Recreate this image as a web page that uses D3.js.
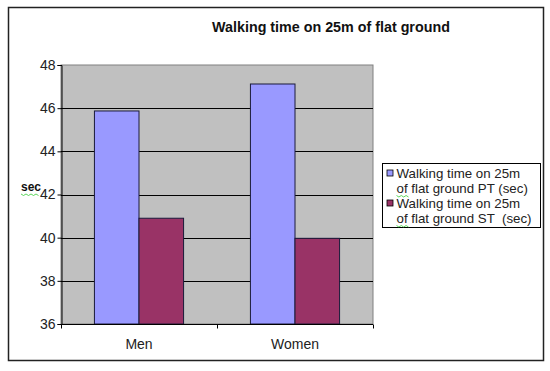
<!DOCTYPE html>
<html>
<head>
<meta charset="utf-8">
<script src="https://cdn.jsdelivr.net/npm/d3@7"></script>
<style>
  body { margin: 0; background: #fff; }
  svg { display: block; font-family: "Liberation Sans", Arial, sans-serif; }
</style>
</head>
<body>
<svg id="chart"></svg>
<script>
// Dades
var categories = ["Men", "Women"];
var seriesNames = ["PT", "ST"];
var ptValues = [45.87, 47.12];
var stValues = [40.9, 39.97];
var legendLines = [
  ["Walking time on 25m", "of flat ground PT (sec)"],
  ["Walking time on 25m", "of flat ground ST  (sec)"]
];
var yTicks = [36, 38, 40, 42, 44, 46, 48];

var width = 550, height = 371;
var colors = { PT: "#9999ff", ST: "#993366" };

var svg = d3.select("#chart").attr("width", width).attr("height", height);

// Marc exterior
svg.append("rect")
  .attr("x", 8.5).attr("y", 7.5)
  .attr("width", 535).attr("height", 353)
  .attr("fill", "#fff").attr("stroke", "#222").attr("stroke-width", 1.5);

// Títol
svg.append("text")
  .attr("x", 331).attr("y", 32)
  .attr("text-anchor", "middle")
  .style("font-size", "14.3px").style("font-weight", "bold").style("fill", "#111")
  .text("Walking time on 25m of flat ground");

// Àrea del gràfic
var plot = { left: 61, top: 65, right: 373, bottom: 324 };

var x0 = d3.scaleBand().domain(categories).range([plot.left, plot.right]);
var x1 = d3.scaleBand().domain(seriesNames).range([0, x0.bandwidth()]).paddingOuter(0.75).paddingInner(0);
var y = d3.scaleLinear().domain([36, 48]).range([plot.bottom, plot.top]);

svg.append("rect")
  .attr("x", plot.left).attr("y", plot.top)
  .attr("width", plot.right - plot.left).attr("height", plot.bottom - plot.top)
  .attr("fill", "#c0c0c0").attr("stroke", "#808080").attr("stroke-width", 1);

// Línies de graella
svg.append("g").selectAll("line")
  .data(yTicks.filter(function(d) { return d > 36 && d < 48; }))
  .enter().append("line")
  .attr("x1", plot.left).attr("x2", plot.right)
  .attr("y1", function(d) { return Math.round(y(d)) + 0.5; })
  .attr("y2", function(d) { return Math.round(y(d)) + 0.5; })
  .attr("stroke", "#000").attr("stroke-width", 1);

// Barres
var data = categories.map(function(c, i) {
  return { cat: c, values: [{ key: "PT", v: ptValues[i] }, { key: "ST", v: stValues[i] }] };
});

svg.append("g").selectAll("g")
  .data(data)
  .enter().append("g")
  .attr("transform", function(d) { return "translate(" + x0(d.cat) + ",0)"; })
  .selectAll("rect")
  .data(function(d) { return d.values; })
  .enter().append("rect")
  .attr("x", function(d) { return x1(d.key); })
  .attr("y", function(d) { return y(d.v); })
  .attr("width", x1.bandwidth())
  .attr("height", function(d) { return y(36) - y(d.v); })
  .attr("fill", function(d) { return colors[d.key]; })
  .attr("stroke", "#1a1a3a").attr("stroke-width", 1);

// Eix Y
var yAxis = d3.axisLeft(y).tickValues(yTicks).tickSize(4).tickPadding(2);
var gy = svg.append("g").attr("transform", "translate(" + (plot.left + 0.5) + ",0)").call(yAxis);
gy.select(".domain").attr("stroke", "#000");
gy.selectAll(".tick line").attr("stroke", "#000");
gy.selectAll("text").style("font-size", "14px").style("fill", "#222").attr("font-family", null);

// Eix X
var gx = svg.append("g").attr("transform", "translate(0," + (plot.bottom + 0.5) + ")");
gx.append("line")
  .attr("x1", plot.left).attr("x2", plot.right)
  .attr("stroke", "#000");
gx.selectAll(".sep")
  .data([plot.left, x0("Women"), plot.right])
  .enter().append("line")
  .attr("class", "sep")
  .attr("x1", function(d) { return Math.round(d) + 0.5; })
  .attr("x2", function(d) { return Math.round(d) + 0.5; })
  .attr("y1", 0).attr("y2", 4)
  .attr("stroke", "#000");
gx.selectAll(".cat")
  .data(categories)
  .enter().append("text")
  .attr("class", "cat")
  .attr("x", function(d) { return x0(d) + x0.bandwidth() / 2; })
  .attr("y", 24)
  .attr("text-anchor", "middle")
  .style("font-size", "14px").style("fill", "#222")
  .text(function(d) { return d; });

// Títol eix Y
svg.append("text")
  .attr("x", 21).attr("y", 191)
  .style("font-size", "12px").style("font-weight", "bold").style("fill", "#111")
  .text("sec");
svg.append("path")
  .attr("d", d3.range(0, 8).map(function(i) { return (i ? "L" : "M") + (21 + i * 2.5) + "," + (194 + (i % 2 ? 1.5 : 0)); }).join(""))
  .attr("fill", "none").attr("stroke", "#3c3").attr("stroke-width", 0.8);

// Llegenda
var legend = svg.append("g").attr("transform", "translate(382.5,163.5)");
legend.append("rect")
  .attr("width", 158).attr("height", 64)
  .attr("fill", "#fff").attr("stroke", "#000");

var items = legend.selectAll(".item")
  .data(seriesNames)
  .enter().append("g")
  .attr("class", "item")
  .attr("transform", function(d, i) { return "translate(0," + (i * 30) + ")"; });

items.append("rect")
  .attr("x", 4.5).attr("y", 6.5).attr("width", 6).attr("height", 6)
  .attr("fill", function(d) { return colors[d]; })
  .attr("stroke", "#000").attr("stroke-width", 0.8);

items.each(function(d, i) {
  var g = d3.select(this);
  legendLines[i].forEach(function(line, j) {
    g.append("text")
      .attr("x", 14).attr("y", 14 + j * 15)
      .style("font-size", "13.3px").style("fill", "#222")
      .style("white-space", "pre")
      .text(line);
  });
  g.append("path")
    .attr("d", d3.range(0, 6).map(function(k) { return (k ? "L" : "M") + (14 + k * 2.4) + "," + (32 + (k % 2 ? 1.5 : 0)); }).join(""))
    .attr("fill", "none").attr("stroke", "#3c3").attr("stroke-width", 0.8);
});
</script>
</body>
</html>
